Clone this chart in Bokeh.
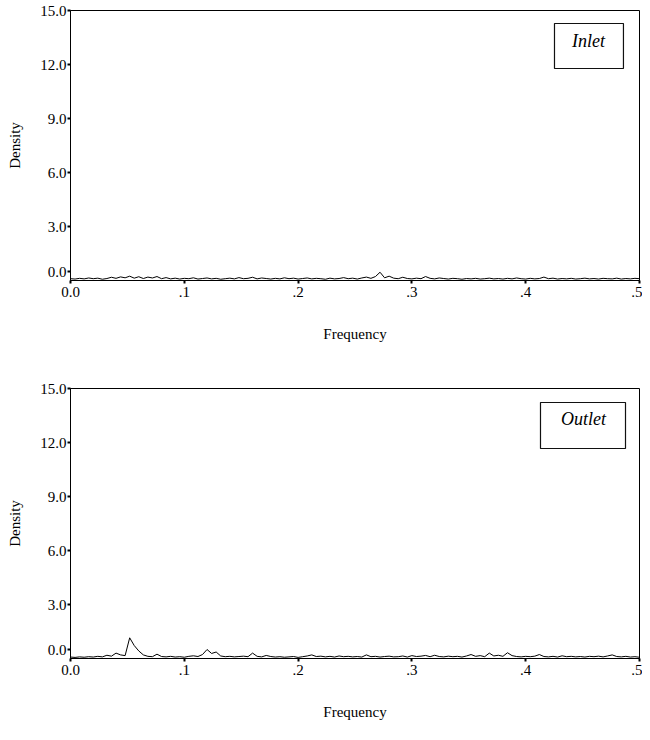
import numpy as np
from bokeh.plotting import figure
from bokeh.layouts import column
from bokeh.models import FixedTicker, Label, BoxAnnotation
from bokeh.embed import file_html
from bokeh.resources import INLINE

# Fourier frequencies (cycles per observation)
freq = np.arange(126) / 250.0

inlet = [0.10, 0.08, 0.12, 0.09, 0.14, 0.10, 0.13, 0.07, 0.11, 0.18,
         0.12, 0.20, 0.15, 0.24, 0.13, 0.21, 0.11, 0.19, 0.14, 0.22,
         0.10, 0.16, 0.09, 0.13, 0.08, 0.12, 0.10, 0.15, 0.08, 0.11,
         0.14, 0.09, 0.12, 0.07, 0.10, 0.13, 0.09, 0.16, 0.10, 0.12,
         0.18, 0.09, 0.14, 0.11, 0.08, 0.12, 0.09, 0.15, 0.10, 0.13,
         0.08, 0.11, 0.14, 0.09, 0.12, 0.10, 0.07, 0.13, 0.09, 0.11,
         0.16, 0.10, 0.13, 0.08, 0.14, 0.19, 0.12, 0.22, 0.46, 0.15,
         0.24, 0.13, 0.10, 0.18, 0.11, 0.09, 0.13, 0.10, 0.22, 0.12,
         0.09, 0.14, 0.11, 0.08, 0.12, 0.10, 0.07, 0.11, 0.09, 0.12,
         0.08, 0.10, 0.13, 0.09, 0.11, 0.08, 0.12, 0.09, 0.14, 0.10,
         0.08, 0.12, 0.09, 0.11, 0.19, 0.10, 0.13, 0.08, 0.11, 0.09,
         0.12, 0.08, 0.10, 0.13, 0.09, 0.11, 0.08, 0.12, 0.10, 0.09,
         0.13, 0.08, 0.11, 0.09, 0.12, 0.10]

outlet = [0.08, 0.06, 0.09, 0.07, 0.10, 0.08, 0.12, 0.09, 0.18, 0.13,
          0.30, 0.20, 0.16, 1.15, 0.72, 0.42, 0.20, 0.12, 0.10, 0.24,
          0.11, 0.09, 0.12, 0.08, 0.10, 0.07, 0.12, 0.15, 0.11, 0.22,
          0.50, 0.28, 0.36, 0.14, 0.10, 0.12, 0.09, 0.11, 0.13, 0.10,
          0.30, 0.12, 0.09, 0.17, 0.11, 0.08, 0.10, 0.07, 0.09, 0.11,
          0.06, 0.10, 0.14, 0.20, 0.11, 0.13, 0.09, 0.12, 0.08, 0.14,
          0.10, 0.12, 0.09, 0.11, 0.08, 0.20, 0.10, 0.12, 0.08, 0.11,
          0.13, 0.09, 0.10, 0.14, 0.08, 0.16, 0.11, 0.13, 0.17, 0.10,
          0.18, 0.11, 0.09, 0.13, 0.10, 0.12, 0.08, 0.14, 0.22, 0.12,
          0.16, 0.10, 0.30, 0.14, 0.18, 0.12, 0.32, 0.16, 0.11, 0.09,
          0.12, 0.10, 0.13, 0.22, 0.11, 0.09, 0.12, 0.08, 0.15, 0.10,
          0.12, 0.09, 0.11, 0.08, 0.12, 0.10, 0.13, 0.09, 0.14, 0.20,
          0.11, 0.09, 0.12, 0.08, 0.10, 0.07]

x_ticks = [0.0, 0.1, 0.2, 0.3, 0.4, 0.5]
x_tick_labels = ["0.0", ".1", ".2", ".3", ".4", ".5"]
# the "0.0" density label sits a little above the axis corner
y_ticks = [0.5, 3, 6, 9, 12, 15]
y_tick_labels = ["0.0", "3.0", "6.0", "9.0", "12.0", "15.0"]

FONT = "Liberation Serif"


def make_panel(values, name, height, border_top, border_bottom, box, text_xy):
    p = figure(width=642, height=height, x_range=(0, 0.5), y_range=(0, 15),
               output_backend="svg", toolbar_location=None,
               min_border_left=70, min_border_right=3,
               min_border_top=border_top, min_border_bottom=border_bottom)
    p.line(freq, values, line_color="black", line_width=1)

    p.grid.visible = False
    p.outline_line_color = "black"
    p.outline_line_width = 1

    for ax in (p.xaxis, p.yaxis):
        ax.axis_line_color = "black"
        ax.axis_line_width = 1
        ax.major_tick_in = 0
        ax.major_tick_out = 3
        ax.major_tick_line_width = 2
        ax.major_tick_line_color = "black"
        ax.minor_tick_line_color = None
        ax.major_label_text_font = FONT
        ax.major_label_text_font_size = "15px"
        ax.major_label_text_color = "black"
        ax.axis_label_text_font = FONT
        ax.axis_label_text_font_size = "15px"
        ax.axis_label_text_font_style = "normal"
        ax.axis_label_text_color = "black"

    p.xaxis.ticker = FixedTicker(ticks=x_ticks)
    p.xaxis.major_label_overrides = dict(zip(x_ticks, x_tick_labels))
    p.xaxis.major_label_standoff = 3
    p.xaxis.axis_label = "Frequency"
    p.xaxis.axis_label_standoff = 26

    p.yaxis.ticker = FixedTicker(ticks=y_ticks)
    p.yaxis.major_label_overrides = dict(zip(y_ticks, y_tick_labels))
    p.yaxis.major_label_standoff = 1
    p.yaxis.axis_label = "Density"
    p.yaxis.axis_label_standoff = 14

    left, right, top, bottom = box
    p.add_layout(BoxAnnotation(left=left, right=right, top=top, bottom=bottom,
                               fill_color="white", fill_alpha=1.0,
                               line_color="#111111", line_alpha=1.0,
                               line_width=1.2))
    p.add_layout(Label(x=text_xy[0], y=text_xy[1], text=name,
                       text_align="center", text_baseline="middle",
                       text_font=FONT, text_font_size="18px",
                       text_font_style="italic", text_color="black"))
    return p


p1 = make_panel(inlet, "Inlet", 380, 10, 100,
                (0.4253, 0.4859, 14.278, 11.778), (0.4552, 13.278))
p2 = make_panel(outlet, "Outlet", 344, 8, 66,
                (0.4130, 0.4877, 14.222, 11.667), (0.4508, 13.278))

layout = column(p1, p2)
open("out.html", "w").write(file_html(layout, INLINE))
